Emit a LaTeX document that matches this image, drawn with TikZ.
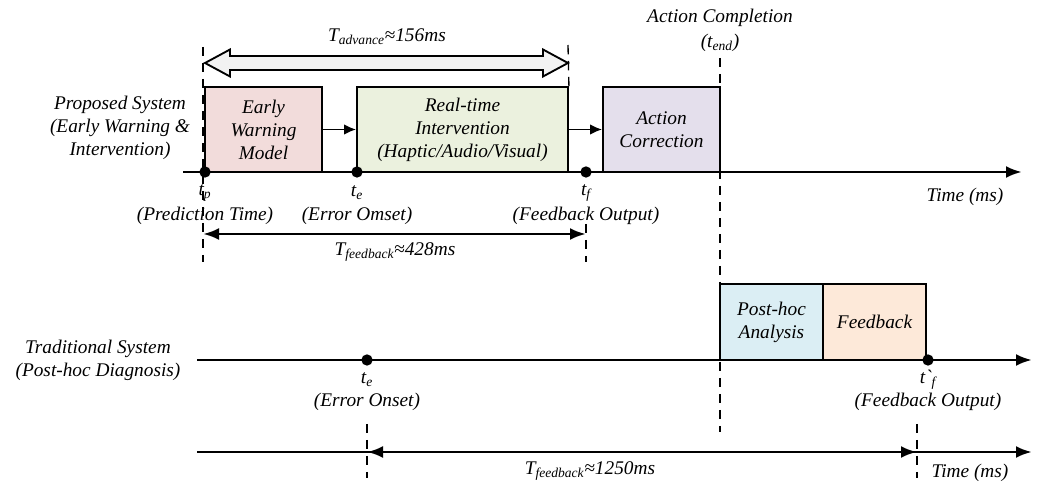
\documentclass[tikz,border=0pt]{standalone}
\usepackage{fontspec}
\setmainfont{Liberation Serif}
\usetikzlibrary{arrows.meta}

\definecolor{ewmfill}{HTML}{F2DCDB}
\definecolor{rtifill}{HTML}{EBF1DE}
\definecolor{acfill}{HTML}{E4DFEC}
\definecolor{phafill}{HTML}{DBEEF4}
\definecolor{fbfill}{HTML}{FDE9D9}
\definecolor{advfill}{HTML}{F2F2F2}

\tikzset{
  lbl/.style={font=\fontsize{14.5}{17.3}\selectfont\itshape, align=center, inner sep=0pt},
  box/.style={lbl, draw, line width=1.4pt, minimum height=63.75pt},
  dot/.style={circle, fill, inner sep=0pt, minimum size=8.5pt},
  axis/.style={line width=2.2pt, -{Latex[length=12pt,width=9pt]}},
  dim/.style={line width=2.2pt, {Latex[length=12pt,width=9pt]}-{Latex[length=12pt,width=9pt]}},
  guide/.style={line width=1pt, dash pattern=on 7pt off 5pt},
  step arrow/.style={line width=1.4pt, -{Latex[length=9pt,width=8pt]}}
}

\begin{document}
\begin{tikzpicture}[x=0.75pt,y=-0.75pt]
  \useasboundingbox (0,0) rectangle (1040,484);

  % proposed system
  \node (lp) at (120,128) [lbl] {Proposed System\\(Early Warning \&\\Intervention)};
  \coordinate (a1s) at (183,172);
  \coordinate (a1e) at (1022,172);
  \draw[axis] (a1s) -- (a1e);

  \node (ewm) at (263.5,129.5) [box, fill=ewmfill, minimum width=87.75pt] {Early\\Warning\\Model};
  \node (rti) at (462.5,129.5) [box, fill=rtifill, minimum width=158.25pt] {Real-time\\Intervention\\(Haptic/Audio/Visual)};
  \node (ac) at (661.5,129.5) [box, fill=acfill, minimum width=87.75pt] {Action\\Correction};

  \draw[step arrow] (ewm.east) -- (rti.west);
  \draw[step arrow] (rti.east) -- (ac.west);

  \node (tp) at (205,172) [dot] {};
  \node (te) at (357,172) [dot] {};
  \node (tf) at (586,172) [dot] {};

  \node (tpl) at (205,193) [lbl] {t\textsubscript{p}};
  \node (tpd) at (205,216) [lbl] {(Prediction Time)};
  \node (tel) at (357,193) [lbl] {t\textsubscript{e}};
  \node (ted) at (357,216) [lbl] {(Error Omset)};
  \node (tfl) at (586,193) [lbl] {t\textsubscript{f}};
  \node (tfd) at (586,216) [lbl] {(Feedback Output)};
  \node (time1) at (965,197) [lbl] {Time (ms)};

  % guides
  \coordinate (g1t) at (203,47);
  \coordinate (g1b) at (203,262);
  \draw[guide] (g1t) -- (g1b);
  \coordinate (g2t) at (568,45);
  \draw[guide] (g2t) -- (rti.north east);
  \coordinate (g3t) at (586,224);
  \coordinate (g3b) at (586,262);
  \draw[guide] (g3t) -- (g3b);
  \coordinate (g4t) at (720,58);
  \coordinate (g4b) at (720,432);
  \draw[guide] (g4t) -- (g4b);

  \node (acl) at (720,18) [lbl] {Action Completion};
  \node (tend) at (720,43) [lbl] {(t\textsubscript{end})};

  % advance arrow
  \draw[line width=1.4pt, fill=advfill] (205,63) -- (230,49.5) -- (230,56) -- (543,56)
    -- (543,49.5) -- (568,63) -- (543,76.5) -- (543,70) -- (230,70) -- (230,76.5) -- cycle;
  \node (adv) at (387,37) [lbl] {T\textsubscript{advance}≈156ms};

  % feedback delay, proposed
  \coordinate (f1s) at (203,234);
  \coordinate (f1e) at (586,234);
  \draw[dim] (f1s) -- (f1e);
  \node (f1l) at (395,252) [lbl] {T\textsubscript{feedback}≈428ms};

  % traditional system
  \node (lt) at (98,360) [lbl] {Traditional System\\(Post-hoc Diagnosis)};
  \coordinate (a2s) at (197,360);
  \coordinate (a2e) at (1032,360);
  \draw[axis] (a2s) -- (a2e);

  \node (pha) at (771.5,322) [box, fill=phafill, minimum width=77.25pt, minimum height=57pt] {Post-hoc\\Analysis};
  \node (fb) at (874.5,322) [box, fill=fbfill, minimum width=77.25pt, minimum height=57pt] {Feedback};

  \node (te2) at (367,360) [dot] {};
  \node (tf2) at (928,360) [dot] {};
  \node (te2l) at (367,380) [lbl] {t\textsubscript{e}};
  \node (te2d) at (367,402) [lbl] {(Error Onset)};
  \node (tf2l) at (928,380) [lbl] {t\textasciigrave\textsubscript{f}};
  \node (tf2d) at (928,402) [lbl] {(Feedback Output)};

  % feedback delay, traditional
  \coordinate (a3s) at (197,452);
  \coordinate (a3e) at (1032,452);
  \draw[axis] (a3s) -- (a3e);
  \coordinate (f2s) at (367,452);
  \coordinate (f2e) at (917,452);
  \draw[dim] (f2s) -- (f2e);
  \coordinate (g5t) at (367,424);
  \coordinate (g5b) at (367,478);
  \draw[guide] (g5t) -- (g5b);
  \coordinate (g6t) at (917,424);
  \coordinate (g6b) at (917,478);
  \draw[guide] (g6t) -- (g6b);
  \node (f2l) at (590,471) [lbl] {T\textsubscript{feedback}≈1250ms};
  \node (time2) at (970,473) [lbl] {Time (ms)};
\end{tikzpicture}
\end{document}
